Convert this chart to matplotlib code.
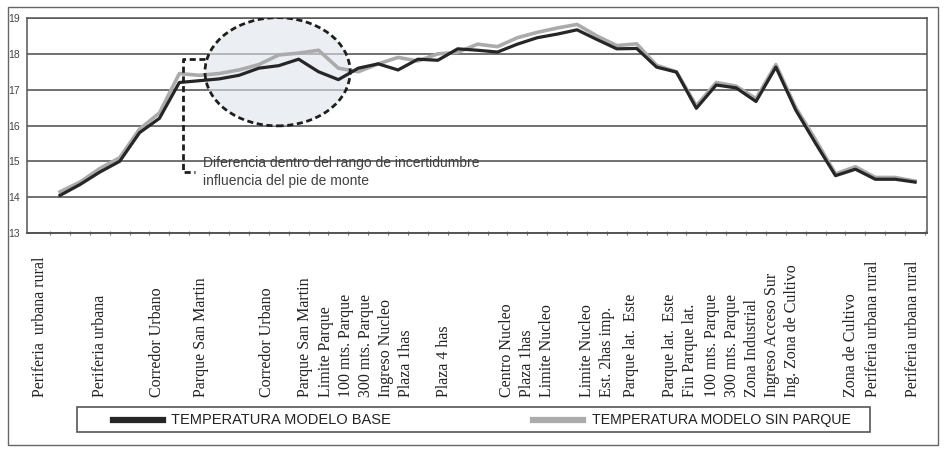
import matplotlib
matplotlib.use("Agg")
import matplotlib.pyplot as plt
from matplotlib.patches import Ellipse, Rectangle
from matplotlib.lines import Line2D
import matplotlib.transforms as mtransforms

# temperaturas (44 puntos del recorrido)
temp_base = [14.05, 14.35, 14.7, 15.0, 15.8, 16.2, 17.2, 17.25, 17.3, 17.4,
             17.6, 17.67, 17.85, 17.5, 17.28, 17.6, 17.72, 17.55, 17.85, 17.82,
             18.14, 18.1, 18.05, 18.27, 18.45, 18.55, 18.67, 18.4, 18.14, 18.15,
             17.63, 17.49, 16.48, 17.13, 17.05, 16.67, 17.63, 16.43, 15.5, 14.6,
             14.78, 14.5, 14.5, 14.42]
temp_sin_parque = [14.15, 14.42, 14.8, 15.1, 15.9, 16.35, 17.45, 17.4, 17.45, 17.55,
                   17.7, 17.97, 18.02, 18.1, 17.6, 17.5, 17.72, 17.9, 17.8, 18.0,
                   18.04, 18.27, 18.2, 18.45, 18.6, 18.72, 18.82, 18.5, 18.23, 18.28,
                   17.68, 17.5, 16.55, 17.2, 17.1, 16.75, 17.7, 16.5, 15.6, 14.65,
                   14.85, 14.55, 14.55, 14.45]

labels = ["Periferia  urbana rural", "Periferia urbana", "Corredor Urbano",
          "Parque San Martin", "Corredor Urbano", "Parque San Martin",
          "Limite Parque", "100 mts. Parque", "300 mts. Parque",
          "Ingreso Nucleo", "Plaza 1has", "Plaza 4 has", "Centro Nucleo",
          "Plaza 1has", "Limite Nucleo", "Limite Nucleo", "Est. 2has imp.",
          "Parque lat.  Este", "Parque lat.  Este", "Fin Parque lat.",
          "100 mts. Parque", "300 mts. Parque", "Zona Industrial",
          "Ingreso Acceso Sur", "Ing. Zona de Cultivo", "Zona de Cultivo",
          "Periferia urbana rural", "Periferia urbana rural"]
# posicion de cada etiqueta sobre el eje de puntos
label_x = [-1.0, 2.0, 4.9, 7.1, 10.4, 12.3, 13.4, 14.4, 15.4, 16.4, 17.4, 19.3,
           22.5, 23.5, 24.5, 26.5, 27.5, 28.7, 30.7, 31.7, 32.8, 33.8, 34.8,
           35.8, 36.8, 39.8, 40.9, 42.9]

plt.rcParams['font.family'] = ['Liberation Sans', 'DejaVu Sans']

fig = plt.figure(figsize=(9.44, 4.5), dpi=100)
ax = fig.add_axes([27/944, 1 - 233/450, 900/944, 215/450])

x = list(range(len(temp_base)))
ax.plot(x, temp_sin_parque, color='#ababab', lw=2.6, zorder=4)
ax.plot(x, temp_base, color='#262626', lw=2.3, zorder=5)

ax.set_xlim(-1.66, 43.6)
ax.set_ylim(13, 19)
ax.set_yticks(range(13, 20))
ax.grid(axis='y', color='#4a4a4a', lw=1.1, zorder=1)
ax.tick_params(axis='y', length=0, pad=5, labelsize=7.5, labelcolor='#444444')
ax.set_xticks([k + 0.5 for k in range(-1, 44)])
ax.set_xticklabels([])
ax.tick_params(axis='x', length=3, width=0.8, color='#777777', direction='inout')
for s in ax.spines.values():
    s.set_color('#555555')
    s.set_linewidth(1.1)
ax.spines['bottom'].set_linewidth(1.4)

# elipse y corchete de la anotacion
ax.add_patch(Ellipse((10.94, 17.5), 7.3, 3.02, facecolor='#dfe5ee', edgecolor='none',
                     alpha=0.6, zorder=2))
ax.add_patch(Ellipse((10.94, 17.5), 7.3, 3.02, facecolor='none', edgecolor='#1e1e1e',
                     lw=2.0, ls=(0, (2.2, 1.3)), zorder=6))
ax.plot([7.3, 6.19, 6.19, 6.8], [17.85, 17.85, 14.69, 14.69], color='#1e1e1e',
        lw=2.0, ls=(0, (2.2, 1.3)), zorder=6)
ax.text(7.2, 15.14, "Diferencia dentro del rango de incertidumbre\ninfluencia del pie de monte",
        fontsize=10, color='#404040', va='top', ha='left', linespacing=1.3, zorder=7)

# etiquetas verticales de las estaciones
trans = mtransforms.blended_transform_factory(ax.transData, ax.transAxes)
for lx, lab in zip(label_x, labels):
    ax.text(lx, -0.763, lab, transform=trans, rotation=90, ha='center', va='bottom',
            fontsize=11.5, family='Liberation Serif', color='#222222')

# leyenda dibujada a mano
W, H = 944, 450
fig.add_artist(Rectangle((77/W, 1 - 432/H), (870-77)/W, 25/H, transform=fig.transFigure,
                         facecolor='white', edgecolor='#555555', lw=1.2))
fig.add_artist(Line2D([113/W, 163/W], [1 - 420/H, 1 - 420/H], color='#262626', lw=4.5))
fig.text(171/W, 1 - 420/H, "TEMPERATURA MODELO BASE", fontsize=10.5, va='center',
         ha='left', color='#222222')
fig.add_artist(Line2D([533/W, 583/W], [1 - 420/H, 1 - 420/H], color='#ababab', lw=4.5))
fig.text(592/W, 1 - 420/H, "TEMPERATURA MODELO SIN PARQUE", fontsize=10.2, va='center',
         ha='left', color='#222222')

# marco exterior
fig.add_artist(Rectangle((8/W, 1 - 445/H), (938-8)/W, (445-7)/H, transform=fig.transFigure,
                         facecolor='none', edgecolor='#666666', lw=1.0))

fig.savefig("out.png", dpi=100)
